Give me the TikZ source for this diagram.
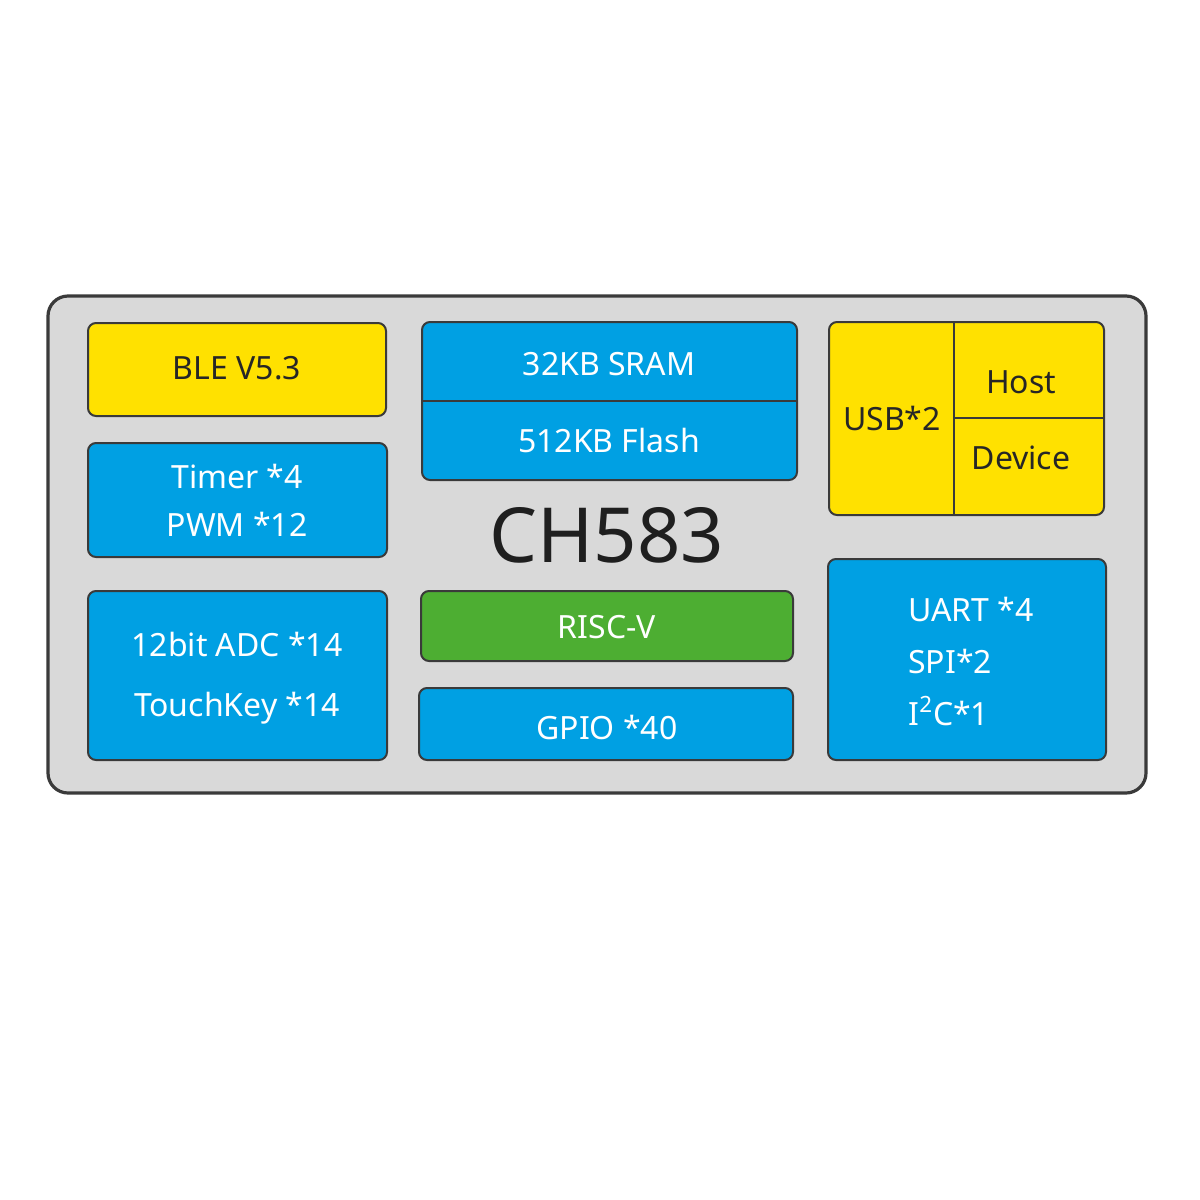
\documentclass[tikz,border=0pt]{standalone}
\usepackage{fontspec}
\setmainfont{Noto Sans}
\definecolor{yel}{HTML}{FFE100}
\definecolor{blu}{HTML}{00A0E3}
\definecolor{grn}{HTML}{4DAE32}
\definecolor{bg}{HTML}{D9D9D9}
\definecolor{edge}{HTML}{3A3A3A}
\begin{document}
\begin{tikzpicture}[x=0.5pt,y=-0.5pt,
  blk/.style={draw=edge,line width=1pt,rounded corners=4pt},
  lbl/.style={font=\fontsize{16}{20}\selectfont,align=center,inner sep=0pt},
  wl/.style={lbl,text=white},
  kl/.style={lbl,text=black!85}]
\useasboundingbox (0,0) rectangle (1200,1200);
\fill[white] (0,0) rectangle (1200,1200);
\draw[fill=bg,draw=edge,line width=1.6pt,rounded corners=10pt] (48,296) rectangle (1146,793);
% left column
\draw[blk,fill=yel] (88,323) rectangle (386,416);
\node[kl] (ble) at (237,368) {BLE V5.3};
\draw[blk,fill=blu] (88,443) rectangle (387,557);
\node[wl] (tim) at (237,500) {Timer *4\\[4pt]PWM *12};
\draw[blk,fill=blu] (88,591) rectangle (387,760);
\node[wl] (adc) at (237,678) {12bit ADC *14\\[10pt]TouchKey *14};
% middle
\draw[blk,fill=blu] (422,322) rectangle (797,480);
\draw[edge,line width=1pt] (422,401) -- (797,401);
\node[wl] (sram) at (609,364) {32KB SRAM};
\node[wl] (flash) at (609,440) {512KB Flash};
\node[inner sep=0pt,font=\fontsize{38}{44}\bfseries\selectfont,text=black!88] (chip) at (607,535) {CH583};
\draw[blk,fill=grn] (421,591) rectangle (793,661);
\node[wl] (risc) at (607,627) {RISC-V};
\draw[blk,fill=blu] (419,688) rectangle (793,760);
\node[wl] (gpio) at (607,727) {GPIO *40};
% right
\draw[blk,fill=yel] (829,322) rectangle (1104,515);
\draw[edge,line width=1pt] (954,322) -- (954,515);
\draw[edge,line width=1pt] (954,418) -- (1104,418);
\node[kl] (usb) at (892,418) {USB*2};
\node[kl] (host) at (1021,382) {Host};
\node[kl] (dev) at (1021,458) {Device};
\draw[blk,fill=blu] (828,559) rectangle (1106,760);
\node[wl,align=left,anchor=west] (uart) at (908,661) {UART *4\\[6pt]SPI*2\\[6pt]I\textsuperscript{2}C*1};
\end{tikzpicture}
\end{document}
